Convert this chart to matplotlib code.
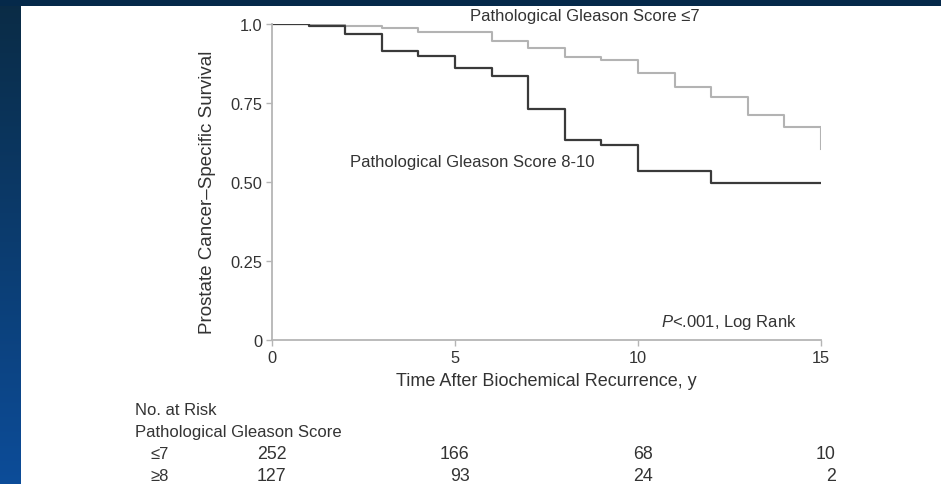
import numpy as np
import matplotlib
matplotlib.use("Agg")
import matplotlib.pyplot as plt
import matplotlib.transforms as mtransforms
from matplotlib.patches import Rectangle

plt.rcParams['font.family'] = ['Liberation Sans', 'DejaVu Sans']
plt.rcParams['mathtext.fontset'] = 'custom'
plt.rcParams['mathtext.rm'] = 'Liberation Sans'
plt.rcParams['mathtext.it'] = 'Liberation Sans:italic'

# survival curves (step, post)
t_low = [0, 2, 3, 4, 6, 7, 8, 9, 10, 11, 12, 13, 14, 15]
s_low = [1.0, 0.995, 0.986, 0.975, 0.947, 0.923, 0.897, 0.887, 0.845, 0.80, 0.768, 0.713, 0.673, 0.604]
t_high = [0, 1, 2, 3, 4, 5, 6, 7, 8, 9, 10, 12, 15]
s_high = [1.0, 0.993, 0.968, 0.916, 0.898, 0.86, 0.836, 0.731, 0.633, 0.618, 0.536, 0.496, 0.496]

risk_times = [0, 5, 10, 15]
risk_low = [252, 166, 68, 10]
risk_high = [127, 93, 24, 2]

xticks = [0, 5, 10, 15]
yticks = [0, 0.25, 0.5, 0.75, 1.0]
ytick_labels = ['0', '0.25', '0.50', '0.75', '1.0']

W, H = 941, 485
fig = plt.figure(figsize=(W / 100, H / 100), dpi=100, facecolor='white')

# slide background: dark band on top, blue band on the left
bg = fig.add_axes([0, 0, 1, 1], zorder=-10)
bg.set_xlim(0, W)
bg.set_ylim(H, 0)
bg.axis('off')
grad = np.linspace(0, 1, 200).reshape(-1, 1)
top_c = np.array([0.04, 0.17, 0.27])
bot_c = np.array([0.05, 0.30, 0.60])
img = top_c + (bot_c - top_c) * grad[:, :, None]
bg.imshow(img, extent=[0, 21, H, 0], aspect='auto')
bg.add_patch(Rectangle((0, 0), W, 7, color='#05294a', lw=0))

ink = '#333333'
fs = 12
ax = fig.add_axes([272 / W, 1 - 341 / H, 549 / W, 316 / H])
ax.step(t_low, s_low, where='post', color='#b3b3b3', lw=1.5)
ax.step(t_high, s_high, where='post', color='#3a3a3a', lw=1.6)

ax.set_xlim(0, 15)
ax.set_ylim(0, 1.0)
ax.set_xticks(xticks)
ax.set_yticks(yticks)
ax.set_yticklabels(ytick_labels)
for s in ['top', 'right']:
    ax.spines[s].set_visible(False)
for s in ['left', 'bottom']:
    ax.spines[s].set_color('#b5b5b5')
    ax.spines[s].set_linewidth(1.3)
ax.tick_params(direction='out', length=4, width=1, color='#b5b5b5',
               labelsize=11.8, labelcolor=ink, pad=3)
ax.set_xlabel('Time After Biochemical Recurrence, y', fontsize=13, color=ink, labelpad=5)
ax.text(-0.117, 0.47, 'Prostate Cancer\u2013Specific Survival', transform=ax.transAxes,
        rotation=90, ha='center', va='center', fontsize=13.5, color=ink)

ax.text(5.41, 1.028, 'Pathological Gleason Score \u22647', fontsize=fs, color=ink,
        va='center', ha='left', clip_on=False)
ax.text(2.13, 0.566, 'Pathological Gleason Score 8-10', fontsize=fs, color=ink,
        va='center', ha='left')
ax.text(14.34, 0.06, '$P$<.001, Log Rank', fontsize=fs, color=ink,
        va='center', ha='right')

# number at risk table
def fy(py):
    return 1 - py / H

fig.text(135 / W, fy(411), 'No. at Risk', fontsize=fs, color=ink, va='center')
fig.text(135 / W, fy(433), 'Pathological Gleason Score', fontsize=fs, color=ink, va='center')
fig.text(150 / W, fy(455), '\u22647', fontsize=fs, color=ink, va='center')
fig.text(150 / W, fy(477), '\u22658', fontsize=fs, color=ink, va='center')
tr = mtransforms.blended_transform_factory(ax.transData, fig.transFigure)
for t, a, b in zip(risk_times, risk_low, risk_high):
    ax.text(t + 0.4, fy(455), str(a), transform=tr, ha='right', va='center',
            fontsize=12.8, color=ink, clip_on=False)
    ax.text(t + 0.4, fy(477), str(b), transform=tr, ha='right', va='center',
            fontsize=12.8, color=ink, clip_on=False)

fig.savefig('out.png', dpi=100, facecolor='white')
